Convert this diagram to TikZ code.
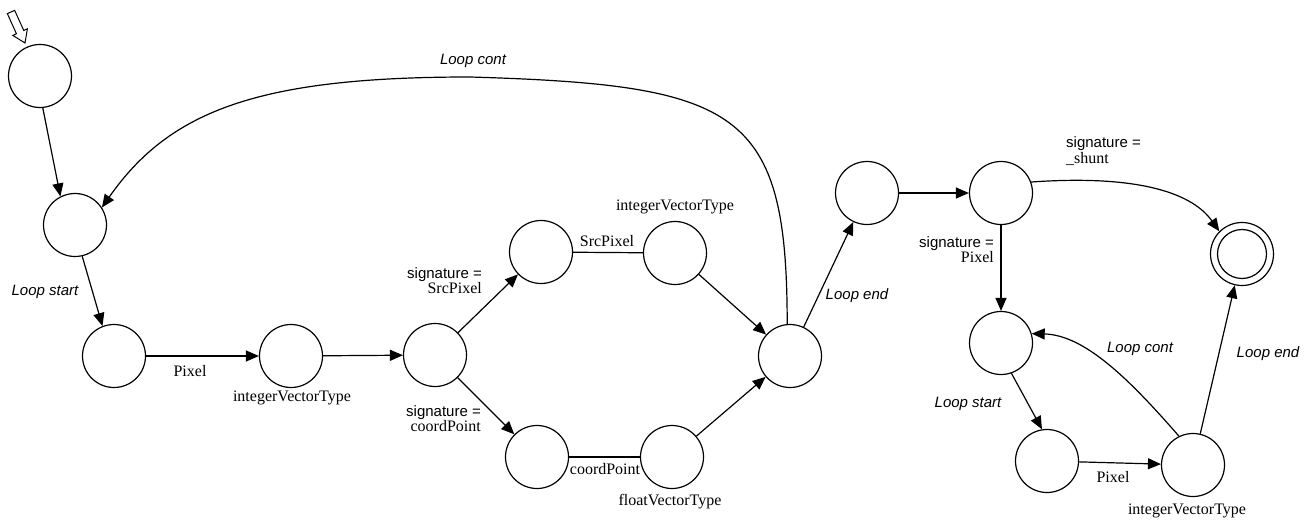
\documentclass[tikz,border=0pt]{standalone}
\usepackage{fontspec}
\setmainfont{Liberation Serif}
\setsansfont{Liberation Sans}
\usetikzlibrary{arrows.meta}
\newcommand\sigfont{\fontsize{15}{18}\selectfont\sffamily}
\newcommand\typfont{\fontsize{16}{18}\selectfont\rmfamily}
\begin{document}
\begin{tikzpicture}[x=1pt,y=-1pt,
  state/.style={circle,draw,line width=1.2pt,minimum size=63pt,inner sep=0pt},
  edge/.style={line width=1.2pt},
  arr/.style={edge,-{Triangle[length=13pt,width=11pt]}},
  typ/.style={font=\typfont,inner sep=1pt},
  sig/.style={inner sep=1pt},
  loopl/.style={font=\sigfont\itshape,inner sep=1pt}]
\useasboundingbox (0,0) rectangle (1308,521);

% states
\node[state] (n0)  at (40,76)   {};
\node[state] (n1)  at (75,225)  {};
\node[state] (n2)  at (114,356) {};
\node[state] (n3)  at (291,356) {};
\node[state] (n4)  at (435,355) {};
\node[state] (n5)  at (541,252) {};
\node[state] (n6)  at (675,253) {};
\node[state] (n7)  at (537,457) {};
\node[state] (n8)  at (672,457) {};
\node[state] (n9)  at (790,356) {};
\node[state] (n10) at (867,193) {};
\node[state] (n11) at (1001,193) {};
\node[state] (n12) at (1242,254) {};
\node[circle,draw,line width=1.2pt,minimum size=49pt,inner sep=0pt] (n12in) at (n12) {};
\node[state] (n13) at (1001,343) {};
\node[state] (n14) at (1047,461) {};
\node[state] (n15) at (1193,465) {};

% initial marker
\draw[line width=1pt,fill=white] (7.35,13.65) -- (16.45,33.75) -- (12.8,35.4) -- (25,43)
  -- (27.4,28.8) -- (23.75,30.45) -- (14.65,10.35) -- cycle;

% transitions, first loop
\draw[arr] (n0.-85) -- (n1.117);
\draw[arr] (n1.-77) -- (n2.111);
\draw[arr] (n2) -- (n3);
\draw[arr] (n3) -- (n4);
\draw[arr] (n4) -- (n5);
\draw[arr] (n4) -- (n7);
\draw[edge] (n5) -- (n6);
\draw[edge] (n7) -- (n8);
\draw[arr] (n6) -- (n9);
\draw[arr] (n8) -- (n9);
\draw[arr] (n9) -- (n10);
\draw[arr] (n9.95) .. controls (787,110) and (740,85) .. (470,77)
  .. controls (260,77) and (170,110) .. (n1.33);

% transitions, second loop
\draw[arr] (n10) -- (n11);
\draw[arr] (n11.20) .. controls (1130,175) and (1190,190) .. (n12.135);
\draw[arr] (n11) -- (n13);
\draw[arr] (n13.-71) -- (n14.99);
\draw[arr] (n14) -- (n15);
\draw[arr] (n15.116) .. controls (1130,380) and (1085,335) .. (n13.17);
\draw[arr] (n15) -- (n12);

% labels
\node[loopl] (l1) at (45,292) {Loop start};
\node[typ] (l2) at (190,371) {Pixel};
\node[typ] (l3) at (292,398) {integerVectorType};
\node[sig,align=right,anchor=east] (l4) at (483,281) {\sigfont signature =\\\typfont SrcPixel};
\node[sig,align=right,anchor=east] (l5) at (482,419) {\sigfont signature =\\\typfont coordPoint};
\node[typ] (l6) at (607,241) {SrcPixel};
\node[typ] (l7) at (675,207) {integerVectorType};
\node[typ] (l8) at (605,469) {coordPoint};
\node[typ] (l9) at (670,502) {floatVectorType};
\node[loopl] (l10) at (473,61) {Loop cont};
\node[loopl] (l11) at (857,296) {Loop end};
\node[sig,align=left,anchor=west] (l12) at (1065,151) {\sigfont signature =\\\typfont \_shunt};
\node[sig,align=right,anchor=east] (l13) at (995,250) {\sigfont signature =\\\typfont Pixel};
\node[loopl] (l14) at (1140,349) {Loop cont};
\node[loopl] (l15) at (1268,354) {Loop end};
\node[loopl] (l16) at (968,404) {Loop start};
\node[typ] (l17) at (1113,477) {Pixel};
\node[typ] (l18) at (1187,511) {integerVectorType};
\end{tikzpicture}
\end{document}
